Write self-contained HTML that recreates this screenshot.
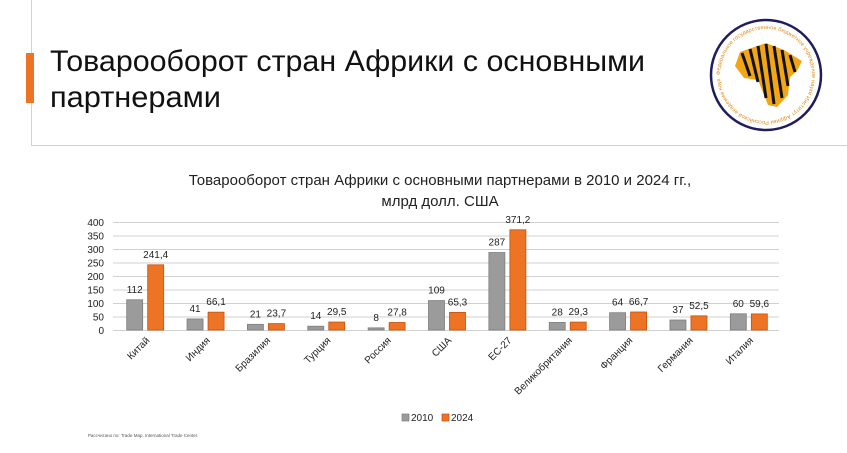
<!DOCTYPE html>
<html><head><meta charset="utf-8"><style>
html,body{margin:0;padding:0;background:#fff;}
body{width:847px;height:448px;overflow:hidden;font-family:"Liberation Sans","DejaVu Sans",sans-serif;}
</style></head><body>
<svg id="s" width="847" height="448" viewBox="0 0 847 448" xmlns="http://www.w3.org/2000/svg" font-family="Liberation Sans, DejaVu Sans, sans-serif">
<line x1="31.5" y1="0" x2="31.5" y2="146" stroke="#d0d0d0"/>
<line x1="31" y1="145.5" x2="847" y2="145.5" stroke="#d0d0d0"/>
<rect x="26" y="53" width="8" height="50" fill="#ed7424"/>
<text x="50" y="71" font-size="30" fill="#111" textLength="595" lengthAdjust="spacingAndGlyphs">Товарооборот стран Африки с основными</text>
<text x="50" y="107" font-size="30" fill="#111" textLength="171" lengthAdjust="spacingAndGlyphs">партнерами</text>
<g>
<defs><path id="ring" d="M766 75 m-46 0 a46 46 0 1 1 92 0 a46 46 0 1 1 -92 0"/></defs>
<circle cx="766" cy="75" r="55" fill="#fff" stroke="#1f1d5e" stroke-width="2.5"/>
<text font-size="5.5" fill="#e08a16"><textPath href="#ring" textLength="285">Федеральное государственное бюджетное учреждение науки Институт Африки Российской академии наук</textPath></text>
<path d="M740 52 L766 43 L784 50 L802 61 L797 71 L790 77 L788 95 L777 107 L768 105 L762 90 L758 80 L744 78 L735 66 Z" fill="#f2a516"/>
<g stroke="#111" stroke-width="3">
<line x1="742" y1="53" x2="750" y2="76"/><line x1="750" y1="49" x2="758" y2="82"/><line x1="758" y1="46" x2="766" y2="98"/><line x1="766" y1="44" x2="774" y2="104"/><line x1="774" y1="46" x2="782" y2="98"/><line x1="782" y1="50" x2="788" y2="86"/><line x1="790" y1="55" x2="795" y2="72"/>
</g>
</g>
<text x="440" y="185" font-size="15" fill="#222" text-anchor="middle">Товарооборот стран Африки с основными партнерами в 2010 и 2024 гг.,</text>
<text x="440" y="206" font-size="15" fill="#222" text-anchor="middle">млрд долл. США</text>
<g id="plot"></g>
<rect x="402" y="414" width="7" height="7" fill="#9b9b9b" stroke="#7d7d7d" stroke-width="0.7"/>
<text x="411" y="421" font-size="10" fill="#222">2010</text>
<rect x="442" y="414" width="7" height="7" fill="#ed7424" stroke="#c4520c" stroke-width="0.7"/>
<text x="451" y="421" font-size="10" fill="#222">2024</text>
<text x="88" y="437" font-size="4.5" fill="#555">Рассчитано по: Trade Map. International Trade Center.</text>
</svg>
<script>
const categories = ["Китай","Индия","Бразилия","Турция","Россия","США","ЕС-27","Великобритания","Франция","Германия","Италия"];
const values2010 = [112,41,21,14,8,109,287,28,64,37,60];
const values2024 = [241.4,66.1,23.7,29.5,27.8,65.3,371.2,29.3,66.7,52.5,59.6];
const labels2010 = ["112","41","21","14","8","109","287","28","64","37","60"];
const labels2024 = ["241,4","66,1","23,7","29,5","27,8","65,3","371,2","29,3","66,7","52,5","59,6"];
const yTicks = [0,50,100,150,200,250,300,350,400];

const NS="http://www.w3.org/2000/svg";
const g=document.getElementById('plot');
const L=115,R=779,Y0=330,Ytop=222,VMAX=400;
const y=v=>Y0-(v/VMAX)*(Y0-Ytop);
const band=(R-L)/categories.length;
const cx=i=>L+band*(i+0.5);
function mk(t,a){const e=document.createElementNS(NS,t);for(const k in a)e.setAttribute(k,a[k]);g.appendChild(e);return e;}
yTicks.forEach(t=>{
  const ln=mk('line',{x1:113,x2:R,y1:y(t)+0.5,y2:y(t)+0.5,stroke:'#d0d0d0','stroke-width':1});
  
  
  const tx=mk('text',{x:104,y:y(t)+4,'font-size':10,fill:'#222','text-anchor':'end'});
  tx.textContent=t;
  
  
});
const bw=16,gap=5;
categories.forEach((c,i)=>{
  const x1=cx(i)-gap/2-bw, x2=cx(i)+gap/2;
  const b1=mk('rect',{x:x1,y:y(values2010[i]),width:bw,height:Y0-y(values2010[i]),fill:'#9b9b9b',stroke:'#7d7d7d','stroke-width':0.8});
  
  
  const b2=mk('rect',{x:x2,y:y(values2024[i]),width:bw,height:Y0-y(values2024[i]),fill:'#ed7424',stroke:'#c4520c','stroke-width':0.8});
  
  
  const t1=mk('text',{x:x1+bw/2,y:y(values2010[i])-7,'font-size':10,fill:'#222','text-anchor':'middle'});
  t1.textContent=labels2010[i];
  
  
  const t2=mk('text',{x:x2+bw/2,y:y(values2024[i])-7,'font-size':10,fill:'#222','text-anchor':'middle'});
  t2.textContent=labels2024[i];
  
  
  const ct=mk('text',{x:0,y:0,'font-size':10,fill:'#222','text-anchor':'end',transform:`translate(${cx(i)+5},${Y0+11}) rotate(-45)`});
  ct.textContent=c;
  
  
});
</script>
</body></html>
